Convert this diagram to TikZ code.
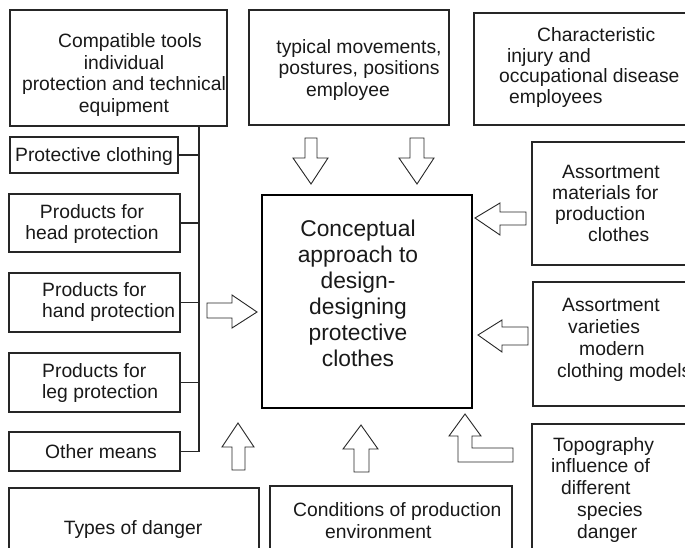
\documentclass[tikz,border=0pt]{standalone}
\usepackage{fontspec}
\setmainfont{Liberation Sans}
\begin{document}
\begin{tikzpicture}[x=1pt,y=-1pt,
  box/.style={draw=black!85, line width=1.2pt, inner sep=0pt, fill=white},
  mainbox/.style={draw=black, line width=2.4pt, inner sep=0pt},
  txt/.style={font=\fontsize{19.3pt}{21.5pt}\selectfont, inner sep=0pt, text=black!90},
  bigtxt/.style={font=\fontsize{22.8pt}{26pt}\selectfont, inner sep=0pt, text=black!90},
  barrow/.style={draw=black!85, line width=0.9pt, fill=white, line join=miter},
  link/.style={draw=black!85, line width=1.2pt}]
\useasboundingbox (0,0) rectangle (685,547);
% boxes
\node[box, minimum width=217pt, minimum height=116pt] (tools) at (118.5,68) {};
\node[box, minimum width=200pt, minimum height=115pt] (move) at (349,67.5) {};
\node[box, minimum width=226pt, minimum height=112pt] (injury) at (587,69) {};
\node[box, minimum width=168pt, minimum height=123pt] (mat) at (616,203.5) {};
\node[box, minimum width=167pt, minimum height=124pt] (var) at (616.5,344) {};
\node[box, minimum width=168pt, minimum height=136pt] (topo) at (616,492) {};
\node[box, minimum width=250pt, minimum height=72pt] (danger) at (134,524) {};
\node[box, minimum width=242pt, minimum height=74pt] (cond) at (391,523) {};
\node[box, minimum width=168pt, minimum height=36pt] (pc) at (94,155) {};
\node[box, minimum width=171pt, minimum height=58pt] (head) at (94.5,223) {};
\node[box, minimum width=171pt, minimum height=59pt] (hand) at (94.5,302.5) {};
\node[box, minimum width=171pt, minimum height=59pt] (leg) at (94.5,382.5) {};
\node[box, minimum width=171pt, minimum height=39pt] (other) at (94.5,451.5) {};
\node[mainbox, minimum width=210pt, minimum height=213pt] (main) at (367,301.5) {};
% texts (anchor base = baseline of the last line)
\node[txt, align=center, anchor=base] (toolsT) at (124,112) {\hspace*{12pt}Compatible tools\\individual\\protection and technical\\equipment};
\node[txt, align=center, anchor=base] (moveT) at (359,96) {typical movements,\\postures, positions\\employee\hspace*{22pt}};
\node[txt, align=left, anchor=base west, font=\fontsize{19.3pt}{20.5pt}\selectfont] (injuryT) at (499,103) {\hspace*{38pt}Characteristic\\\hspace*{8pt}injury and\\occupational disease\\\hspace*{10pt}employees};
\node[txt, align=left, anchor=base west, font=\fontsize{19.3pt}{21pt}\selectfont] (matT) at (552,241) {\hspace*{10pt}Assortment\\materials for\\\hspace*{3pt}production\\\hspace*{36pt}clothes};
\node[txt, align=left, anchor=base west, font=\fontsize{19.3pt}{22pt}\selectfont] (varT) at (557,377) {\hspace*{5pt}Assortment\\\hspace*{11pt}varieties\\\hspace*{22pt}modern\\clothing models};
\node[txt, align=left, anchor=base west, font=\fontsize{19.3pt}{21.7pt}\selectfont] (topoT) at (551,538) {\hspace*{2pt}Topography\\influence of\\\hspace*{10pt}different\\\hspace*{26pt}species\\\hspace*{26pt}danger};
\node[txt, anchor=base] (dangerT) at (133,534) {Types of danger};
\node[txt, align=left, anchor=base west, font=\fontsize{19.3pt}{22pt}\selectfont] (condT) at (293,538) {Conditions of production\\\hspace*{32pt}environment};
\node[txt, anchor=base] (pcT) at (94,161) {Protective clothing};
\node[txt, align=center, anchor=base] (headT) at (92,239.5) {Products for\\head protection};
\node[txt, align=left, anchor=base west] (handT) at (42,317.5) {Products for\\hand protection};
\node[txt, align=left, anchor=base west] (legT) at (42,398.5) {Products for\\leg protection};
\node[txt, anchor=base] (otherT) at (101,458) {Other means};
\node[bigtxt, align=center, anchor=base] (mainT) at (358,366) {Conceptual\\approach to\\design-\\designing\\protective\\clothes};
% bus
\coordinate (bus) at (199,0);
\draw[link] (tools.south -| bus) -- (bus |- other.east);
\foreach \b in {pc,head,hand,leg,other} \draw[link] (\b.east) -- (\b.east -| bus);
% block arrows
\draw[barrow] (305,138) -- (317,138) -- (317,158) -- (328,158) -- (311,184) -- (293,158) -- (305,158) -- cycle;
\draw[barrow] (410,138) -- (424,138) -- (424,158) -- (434,158) -- (417,184) -- (399,158) -- (410,158) -- cycle;
\draw[barrow] (207,303) -- (232,303) -- (232,295) -- (257,312) -- (232,328) -- (232,318) -- (207,318) -- cycle;
\draw[barrow] (526,212) -- (500,212) -- (500,203) -- (475,218) -- (500,235) -- (500,225) -- (526,225) -- cycle;
\draw[barrow] (528,327) -- (502,327) -- (502,320) -- (478,335) -- (502,352) -- (502,345) -- (528,345) -- cycle;
\draw[barrow] (232,470) -- (232,447) -- (222,447) -- (238,423) -- (254,447) -- (245,447) -- (245,470) -- cycle;
\draw[barrow] (354,472) -- (354,449) -- (343,449) -- (361,425) -- (378,449) -- (369,449) -- (369,472) -- cycle;
\draw[barrow] (465,414) -- (481,436) -- (472,436) -- (472,448) -- (513,448) -- (513,462) -- (458,462) -- (458,436) -- (449,436) -- cycle;
\end{tikzpicture}
\end{document}
